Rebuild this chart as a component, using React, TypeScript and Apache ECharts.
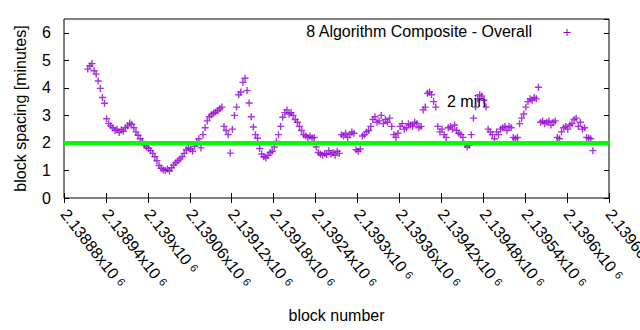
import React, { useEffect, useRef } from "react";
import * as echarts from "echarts";

// Block spacing (minutes), one reading every BLOCK_STEP blocks starting at FIRST_BLOCK
const FIRST_BLOCK = 2138914;
const BLOCK_STEP = 3;

const spacingPart1 = [
  4.68, 4.8, 4.88, 4.62, 4.5, 4.25, 3.98, 3.65, 3.44, 2.88, 2.7, 2.62, 2.55, 2.45, 2.5, 2.38, 2.48, 2.42, 2.55, 2.62,
  2.72, 2.68, 2.55, 2.4, 2.28, 2.15, 2.05, 1.92, 1.85, 1.8, 1.72, 1.62, 1.5, 1.35, 1.18, 1.08, 1.02, 1.0, 1.05, 0.98,
  1.1, 1.2, 1.28, 1.35, 1.42, 1.5, 1.62, 1.75, 1.82, 1.78, 1.7, 1.88, 2.02, 2.15, 1.82, 2.3, 2.55, 2.8, 2.95, 3.02,
];
const spacingPart2 = [
  3.08, 3.12, 3.18, 3.25, 3.3, 2.6, 2.45, 2.3, 1.63, 2.5, 3.0, 3.3, 3.75, 3.85, 4.2, 4.35, 3.9, 3.45, 2.95, 2.58,
  2.3, 2.17, 1.8, 1.6, 1.5, 1.45, 1.55, 1.65, 1.7, 1.85, 2.05, 2.3, 2.6, 2.93, 3.1, 3.2, 3.05, 3.1, 3.0, 2.85,
  2.75, 2.6, 2.45, 2.3, 2.25, 2.2, 2.25, 2.18, 2.2, 1.85, 1.65, 1.6, 1.55, 1.62, 1.58, 1.72, 1.6, 1.65, 1.55, 1.7,
];
const spacingPart3 = [
  1.62, 2.3, 2.25, 2.35, 2.2, 2.3, 2.4, 2.35, 1.75, 1.7, 1.78, 2.25, 2.3, 2.4, 2.45, 2.6, 2.85, 2.95, 2.75, 2.8,
  3.0, 2.7, 2.85, 2.75, 2.9, 2.6, 2.3, 2.2, 2.35, 2.6, 2.7, 2.5, 2.55, 2.7, 2.65, 2.6, 2.75, 2.7, 2.55, 2.6,
  3.2, 3.3, 3.8, 3.85, 3.75, 3.5, 3.3, 2.6, 2.4, 2.5, 2.3, 2.2, 2.55, 2.6, 2.5, 2.65, 2.45, 2.35, 2.3, 2.2,
];
const spacingPart4 = [
  1.95, 1.85, 1.92, 2.3, 2.9, 3.3, 3.6, 3.75, 3.7, 3.55, 3.3, 2.5, 2.4, 2.3, 2.15, 2.4, 2.3, 2.5, 2.55, 2.6,
  2.45, 2.6, 2.55, 2.2, 2.15, 2.2, 2.7, 2.9, 3.05, 3.3, 3.5, 3.6, 3.55, 3.65, 3.6, 4.02, 2.75, 2.8, 2.7, 2.75,
  2.8, 2.65, 2.75, 2.8, 2.2, 2.15, 2.4, 2.55, 2.6, 2.5, 2.65, 2.7, 2.85, 2.9, 2.6, 2.75, 2.5, 2.55, 2.2, 2.18,
  2.15, 1.72,
];

const X_MIN = 2138880;
const X_MAX = 2139660;
const X_TICK = 60;
const Y_MIN = 0;
const Y_MAX = 6.5;
const Y_TICK = 1;
const TARGET_MINUTES = 2;
const SERIES_NAME = "8 Algorithm Composite - Overall";
const TARGET_LABEL = "2 min";
const X_TITLE = "block number";
const Y_TITLE = "block spacing [minutes]";

const FONT = "Liberation Sans";
const PURPLE = "#9400d3";

function mantissa(v: number): string {
  return parseFloat((v / 1e6).toPrecision(6)).toString();
}

export default function App() {
  const ref = useRef<HTMLDivElement>(null);
  useEffect(() => {
    const chart = echarts.init(ref.current!, null, { renderer: "svg" });
    const spacing = [...spacingPart1, ...spacingPart2, ...spacingPart3, ...spacingPart4];
    const points = spacing.map((v, i) => [FIRST_BLOCK + i * BLOCK_STEP, v]);

    const tickCommon = { show: true, inside: true, length: 5, lineStyle: { color: "#000", width: 1 } };

    chart.setOption({
      animation: false,
      backgroundColor: "#fff",
      textStyle: { fontFamily: FONT },
      grid: {
        left: 64,
        right: 31,
        top: 19,
        bottom: 132,
        containLabel: false,
        outerBoundsMode: "none",
        show: true,
        borderColor: "#000",
        borderWidth: 1,
        backgroundColor: "transparent",
      },
      xAxis: [
        {
          type: "value",
          min: X_MIN,
          max: X_MAX,
          interval: X_TICK,
          position: "bottom",
          axisLine: { show: false },
          axisTick: tickCommon,
          splitLine: { show: false },
          name: X_TITLE,
          nameLocation: "middle",
          nameGap: 109,
          nameTextStyle: { fontFamily: FONT, fontSize: 16, color: "#000" },
          axisLabel: {
            rotate: -52,
            margin: 13,
            color: "#000",
            fontFamily: FONT,
            fontSize: 16,
            hideOverlap: false,
            formatter: (v: number) => `{m|${mantissa(v)}x10} {e|6}`,
            rich: {
              m: { fontFamily: FONT, fontSize: 16, color: "#000" },
              e: { fontFamily: FONT, fontSize: 11, color: "#000", padding: [0, 0, 3, 0] },
            },
          },
        },
        {
          type: "value",
          min: X_MIN,
          max: X_MAX,
          interval: X_TICK,
          position: "top",
          axisLine: { show: false },
          axisTick: tickCommon,
          axisLabel: { show: false, formatter: () => "" },
          splitLine: { show: false },
        },
      ],
      yAxis: [
        {
          type: "value",
          min: Y_MIN,
          max: Y_MAX,
          interval: Y_TICK,
          position: "left",
          axisLine: { show: false },
          axisTick: tickCommon,
          splitLine: { show: false },
          axisLabel: {
            margin: 13,
            color: "#000",
            fontFamily: FONT,
            fontSize: 16,
            showMaxLabel: false,
          },
          name: Y_TITLE,
          nameLocation: "middle",
          nameGap: 36,
          nameTextStyle: { fontFamily: FONT, fontSize: 16, color: "#000" },
        },
        {
          type: "value",
          min: Y_MIN,
          max: Y_MAX,
          interval: Y_TICK,
          position: "right",
          axisLine: { show: false },
          axisTick: tickCommon,
          axisLabel: { show: false, formatter: () => "" },
          splitLine: { show: false },
        },
      ],
      graphic: [
        {
          type: "text",
          right: 640 - 533,
          top: 23,
          z: 10,
          style: { text: SERIES_NAME, fontFamily: FONT, fontSize: 16, fill: "#000" },
        },
        {
          type: "line",
          z: 10,
          shape: { x1: 563.5, y1: 32.5, x2: 570.5, y2: 32.5 },
          style: { stroke: PURPLE, lineWidth: 1 },
        },
        {
          type: "line",
          z: 10,
          shape: { x1: 567, y1: 29, x2: 567, y2: 36 },
          style: { stroke: PURPLE, lineWidth: 1 },
        },
        {
          type: "text",
          left: 447,
          top: 93,
          z: 0,
          style: { text: TARGET_LABEL, fontFamily: FONT, fontSize: 16, fill: "#000" },
        },
      ],
      series: [
        {
          name: SERIES_NAME,
          type: "scatter",
          xAxisIndex: 0,
          yAxisIndex: 0,
          z: 2,
          symbol: "path://M0,4L8,4M4,0L4,8",
          symbolSize: 7,
          itemStyle: { color: "none", borderColor: PURPLE, borderWidth: 1.4 },
          data: points,
        },
        {
          name: TARGET_LABEL,
          type: "line",
          xAxisIndex: 0,
          yAxisIndex: 0,
          z: 3,
          symbol: "none",
          lineStyle: { color: "#00ff00", width: 4 },
          data: [
            [X_MIN, TARGET_MINUTES],
            [X_MAX, TARGET_MINUTES],
          ],
        },
      ],
    });
    return () => chart.dispose();
  }, []);
  return (
    <div
      ref={ref}
      style={{ position: "fixed", left: 0, top: 0, width: 640, height: 330 }}
    />
  );
}
